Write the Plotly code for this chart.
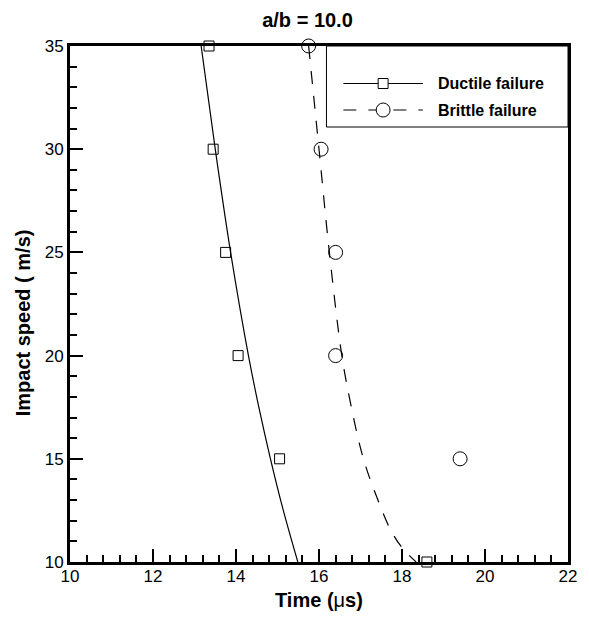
import plotly.graph_objects as go

# ---- data ----
ductile_time = [13.35, 13.45, 13.75, 14.05, 15.05, 18.6]
ductile_speed = [35, 30, 25, 20, 15, 10]
brittle_time = [15.75, 16.05, 16.4, 16.4, 19.4]
brittle_speed = [35, 30, 25, 20, 15]

# fitted curves
ductile_fit_time = [13.16, 13.50, 13.87, 14.30, 14.55, 14.83, 15.14, 15.49]
ductile_fit_speed = [35, 30, 25, 20, 17.5, 15, 12.5, 10]
brittle_fit_time = [15.75, 16.0, 16.25, 16.55, 16.78, 17.07, 17.42, 17.74, 18.0, 18.34]
brittle_fit_speed = [35, 30, 25, 20, 17.5, 15, 13, 11.5, 10.7, 10]

x_ticks = [10, 12, 14, 16, 18, 20, 22]
y_ticks = [10, 15, 20, 25, 30, 35]

FONT = "Liberation Sans, Arial, sans-serif"
W, H = 589, 617
L, R, T, B = 70, 18, 46, 55
PW, PH = W - L - R, H - T - B


def px(xp):
    return (xp - L) / PW


def py(yp):
    return (H - B - yp) / PH


fig = go.Figure()
fig.add_trace(go.Scatter(x=ductile_fit_time, y=ductile_fit_speed, mode="lines",
                         line=dict(color="black", width=1.2, shape="spline"),
                         showlegend=False, hoverinfo="skip"))
fig.add_trace(go.Scatter(x=brittle_fit_time, y=brittle_fit_speed, mode="lines",
                         line=dict(color="black", width=1.2, shape="spline", dash="13px,12px"),
                         showlegend=False, hoverinfo="skip"))
fig.add_trace(go.Scatter(x=ductile_time, y=ductile_speed, mode="markers", cliponaxis=False,
                         marker=dict(symbol="square", size=10, color="rgba(0,0,0,0)",
                                     line=dict(color="black", width=1)),
                         name="Ductile failure", showlegend=False))
fig.add_trace(go.Scatter(x=brittle_time, y=brittle_speed, mode="markers", cliponaxis=False,
                         marker=dict(symbol="circle", size=14, color="rgba(0,0,0,0)",
                                     line=dict(color="black", width=1)),
                         name="Brittle failure", showlegend=False))

axis_common = dict(
    showgrid=False, zeroline=False, showline=True, linecolor="black", linewidth=3,
    mirror=True, ticks="inside", ticklen=13, tickwidth=2, tickcolor="black",
    tickfont=dict(family=FONT, size=17, color="black"),
)
fig.update_xaxes(range=[10, 22], tickvals=x_ticks, ticktext=[str(v) for v in x_ticks],
                 ticklabelstandoff=-3,
                 minor=dict(dtick=0.4, tick0=10, ticks="inside", ticklen=7, tickwidth=1.5,
                            tickcolor="black", showgrid=False),
                 **axis_common)
fig.update_yaxes(range=[10, 35], tickvals=y_ticks, ticktext=[str(v) for v in y_ticks],
                 minor=dict(dtick=1, tick0=10, ticks="inside", ticklen=7, tickwidth=1.5,
                            tickcolor="black", showgrid=False),
                 **axis_common)

# custom legend (long line samples as in the reference)
shapes = []
annotations = []
lx0, lx1, ly0, ly1 = 328, 571, 46, 127
shapes.append(dict(type="rect", xref="paper", yref="paper", x0=px(lx0), x1=px(lx1),
                   y0=py(ly1), y1=py(ly0), line=dict(color="black", width=1),
                   fillcolor="white", layer="below"))
row1, row2 = 83.5, 110
s0, s1, sc = 345, 425, 385
shapes.append(dict(type="line", xref="paper", yref="paper", x0=px(s0), x1=px(s1),
                   y0=py(row1), y1=py(row1), line=dict(color="black", width=1.2)))
shapes.append(dict(type="rect", xref="paper", yref="paper", x0=px(sc - 5), x1=px(sc + 5),
                   y0=py(row1 + 5), y1=py(row1 - 5), line=dict(color="black", width=1),
                   fillcolor="white"))
shapes.append(dict(type="line", xref="paper", yref="paper", x0=px(s0), x1=px(s1),
                   y0=py(row2), y1=py(row2), line=dict(color="black", width=1.2, dash="13px,12px")))
shapes.append(dict(type="circle", xref="paper", yref="paper", x0=px(sc - 7), x1=px(sc + 7),
                   y0=py(row2 + 7), y1=py(row2 - 7), line=dict(color="black", width=1),
                   fillcolor="white"))
for txt, yy in [("Ductile failure", row1), ("Brittle failure", row2)]:
    annotations.append(dict(text="<b>%s</b>" % txt, xref="paper", yref="paper",
                            x=px(438), y=py(yy), xanchor="left", yanchor="middle",
                            showarrow=False, font=dict(family=FONT, size=16, color="black")))

# axis titles
annotations.append(dict(text="<b>Impact speed ( m/s)</b>", xref="paper", yref="paper",
                        x=px(23), y=py(323), textangle=-90, xanchor="center", yanchor="middle",
                        showarrow=False, font=dict(family=FONT, size=20, color="black")))
annotations.append(dict(text="<b>Time (</b>\u03bc<b>s)</b>", xref="paper", yref="paper",
                        x=px(321), y=py(600), xanchor="center", yanchor="middle",
                        showarrow=False, font=dict(family=FONT, size=20, color="black")))

fig.update_layout(
    width=W, height=H, autosize=False,
    margin=dict(l=L, r=R, t=T, b=B),
    paper_bgcolor="white", plot_bgcolor="white",
    title=dict(text="<b>a/b = 10.0</b>", x=307.5 / W, y=1 - 20 / H, xanchor="center",
               yanchor="middle", font=dict(family=FONT, size=20, color="black")),
    shapes=shapes, annotations=annotations, showlegend=False,
)

fig.write_html("out.html")
